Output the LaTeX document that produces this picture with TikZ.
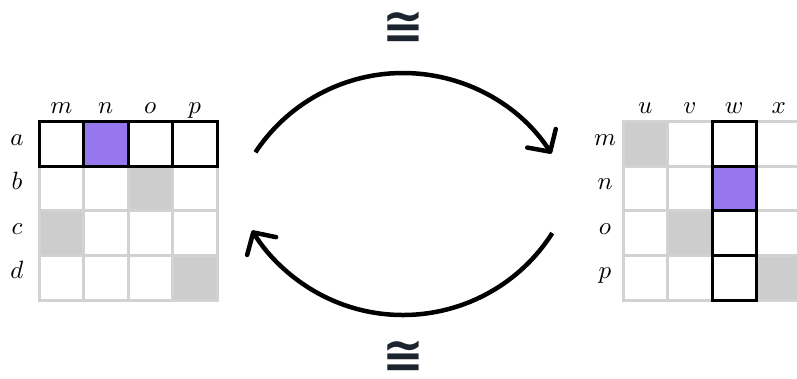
\documentclass[tikz,border=0pt]{standalone}
\usepackage{fontspec}
\newfontfamily\isofont{DejaVu Sans}
\usetikzlibrary{arrows.meta}
\definecolor{gridgray}{HTML}{D2D2D2}
\definecolor{cellgray}{HTML}{CDCDCD}
\definecolor{hipurple}{HTML}{9677EE}
\definecolor{navy}{HTML}{1C2430}
\begin{document}
\begin{tikzpicture}[x=1pt,y=1pt,
  cell/.style={draw=gridgray, line width=3pt, fill=white},
  graycell/.style={draw=gridgray, line width=3pt, fill=cellgray},
  hicell/.style={draw=black, line width=3pt},
  lbl/.style={scale=2.5, inner sep=0pt, anchor=base},
  iso/.style={font=\isofont\bfseries\fontsize{50}{50}\selectfont, text=navy, inner sep=0pt},
  bigarrow/.style={line width=4.5pt, -{Straight Barb[length=16pt,width=34pt,round]}}]
\useasboundingbox (0,0) rectangle (797,-379);
\clip (0,0) rectangle (797,-379);
\def\pp{44.5}
% ---------- left grid ----------
\foreach \i in {0,...,3}
  \foreach \j in {0,...,3}
    \draw[cell] ({39+\i*\pp},{-122-\j*\pp}) rectangle ++(\pp,-\pp);
\foreach \i/\j in {2/1,0/2,3/3}
  \draw[graycell] ({39+\i*\pp},{-122-\j*\pp}) rectangle ++(\pp,-\pp);
\fill[hipurple] ({39+1*\pp},-122) rectangle ++(\pp,-\pp);
\foreach \i in {0,...,3}
  \draw[hicell] ({39+\i*\pp},-122) rectangle ++(\pp,-\pp);
\foreach \t [count=\k from 0] in {m,n,o,p}
  \node[lbl] (lc\t) at ({39+\pp/2+\k*\pp},-114) {$\t$};
\foreach \t [count=\k from 0] in {a,b,c,d}
  \node[lbl] (lr\t) at (17,{-123-\pp/2-\k*\pp}) {$\t$};
% ---------- right grid ----------
\foreach \i in {0,...,4}
  \foreach \j in {0,...,3}
    \draw[cell] ({623+\i*\pp},{-122-\j*\pp}) rectangle ++(\pp,-\pp);
\foreach \i/\j in {0/0,1/2,3/3}
  \draw[graycell] ({623+\i*\pp},{-122-\j*\pp}) rectangle ++(\pp,-\pp);
\fill[hipurple] ({623+2*\pp},{-122-1*\pp}) rectangle ++(\pp,-\pp);
\foreach \j in {0,...,3}
  \draw[hicell] ({623+2*\pp},{-122-\j*\pp}) rectangle ++(\pp,-\pp);
\foreach \t [count=\k from 0] in {u,v,w,x}
  \node[lbl] (rc\t) at ({623+\pp/2+\k*\pp},-114) {$\t$};
\foreach \t [count=\k from 0] in {m,n,o,p}
  \node[lbl] (rr\t) at (605,{-123-\pp/2-\k*\pp}) {$\t$};
% ---------- arrows ----------
\coordinate (topstart) at ({403+177*cos(146.5)},{-250+177*sin(146.5)});
\coordinate (botstart) at ({403+177*cos(-32.5)},{-138+177*sin(-32.5)});
\draw[bigarrow] (topstart) arc[start angle=146.5, end angle=33, radius=177];
\draw[bigarrow] (botstart) arc[start angle=-32.5, end angle=-148.5, radius=177];
% ---------- isomorphism signs ----------
\node[iso] (isotop) at (403,-28) {≅};
\node[iso] (isobot) at (403,-357) {≅};
\end{tikzpicture}
\end{document}
